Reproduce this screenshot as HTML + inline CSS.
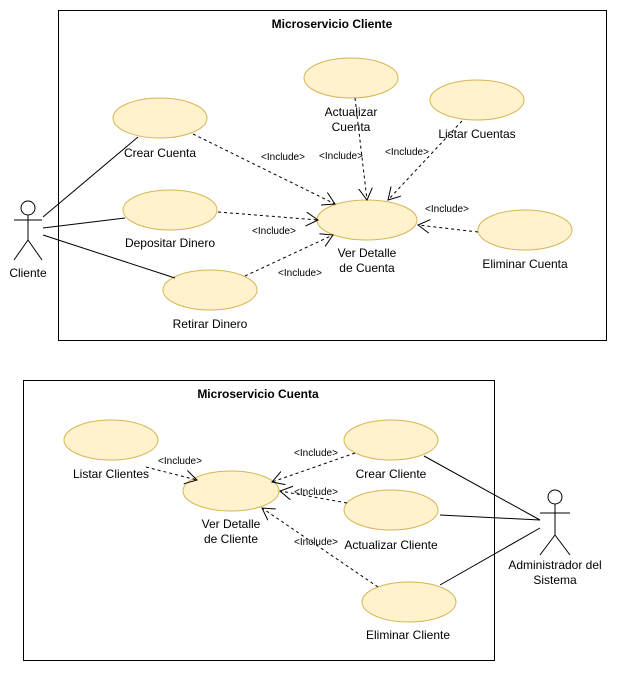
<!DOCTYPE html>
<html><head><style>body{margin:0;background:#fff}</style></head><body>
<svg width="617" height="671" viewBox="0 0 617 671" xmlns="http://www.w3.org/2000/svg" font-family="Liberation Sans, sans-serif" font-size="11">
<defs><marker id="a" markerWidth="14" markerHeight="16" refX="12" refY="7" orient="auto" markerUnits="userSpaceOnUse"><path d="M0,0 L12,7 L0,14" fill="none" stroke="#000"/></marker></defs>
<rect x="58.5" y="10.5" width="548" height="330" fill="none" stroke="#000"/>
<text x="332" y="28" text-anchor="middle" font-weight="bold" font-size="12">Microservicio Cliente</text>
<g fill="#fff2cc" stroke="#d6b656">
<ellipse cx="160" cy="118" rx="47" ry="20"/><ellipse cx="351" cy="78" rx="47" ry="20"/><ellipse cx="477" cy="100" rx="47" ry="20"/>
<ellipse cx="170" cy="210" rx="47" ry="20"/><ellipse cx="367" cy="220" rx="50" ry="20"/><ellipse cx="525" cy="230" rx="47" ry="20"/><ellipse cx="210" cy="290" rx="47" ry="20"/>
<ellipse cx="111" cy="440" rx="47" ry="20"/><ellipse cx="231" cy="491" rx="48" ry="20"/><ellipse cx="391" cy="440" rx="47" ry="20"/><ellipse cx="391" cy="510" rx="47" ry="20"/><ellipse cx="409" cy="602" rx="47" ry="20"/>
</g>
<g stroke="#000" fill="none">
<circle cx="28" cy="208" r="7" fill="#fff"/><line x1="28" y1="215" x2="28" y2="240"/><line x1="14" y1="220" x2="42" y2="220"/><line x1="28" y1="240" x2="14" y2="260"/><line x1="28" y1="240" x2="42" y2="260"/>
<line x1="43" y1="217" x2="138" y2="137"/><line x1="43" y1="228" x2="125" y2="218"/><line x1="43" y1="235" x2="175" y2="278"/>
<circle cx="555" cy="497" r="7" fill="#fff"/><line x1="555" y1="504" x2="555" y2="535"/><line x1="540" y1="513" x2="570" y2="513"/><line x1="555" y1="535" x2="540" y2="555"/><line x1="555" y1="535" x2="570" y2="555"/>
<line x1="424" y1="456" x2="540" y2="520"/><line x1="440" y1="515" x2="540" y2="520"/><line x1="440" y1="585" x2="540" y2="528"/>
<g stroke-dasharray="3,3" marker-end="url(#a)">
<line x1="193" y1="134" x2="335" y2="204"/><line x1="355" y1="98" x2="367" y2="200"/><line x1="462" y1="121" x2="388" y2="200"/><line x1="218" y1="212" x2="318" y2="220"/><line x1="245" y1="276" x2="333" y2="235"/><line x1="478" y1="232" x2="418" y2="225"/>
<line x1="146" y1="467" x2="197" y2="480"/><line x1="355" y1="453" x2="272" y2="482"/><line x1="347" y1="503" x2="280" y2="491"/><line x1="378" y1="587" x2="262" y2="508"/>
</g></g>
<rect x="23.5" y="380.5" width="471" height="280" fill="none" stroke="#000"/>
<text x="258" y="398" text-anchor="middle" font-weight="bold" font-size="12">Microservicio Cuenta</text>
<g text-anchor="middle" font-size="12">
<text x="160" y="157">Crear Cuenta</text><text x="351" y="116">Actualizar</text><text x="351" y="131">Cuenta</text><text x="477" y="138">Listar Cuentas</text>
<text x="170" y="247">Depositar Dinero</text><text x="367" y="257">Ver Detalle</text><text x="367" y="272">de Cuenta</text><text x="525" y="268">Eliminar Cuenta</text><text x="210" y="328">Retirar Dinero</text>
<text x="28" y="277">Cliente</text>
<text x="111" y="478">Listar Clientes</text><text x="231" y="528">Ver Detalle</text><text x="231" y="543">de Cliente</text><text x="391" y="478">Crear Cliente</text><text x="391" y="549">Actualizar Cliente</text><text x="408" y="639">Eliminar Cliente</text>
<text x="555" y="569">Administrador del</text><text x="555" y="584">Sistema</text>
</g>
<g text-anchor="middle" font-size="10">
<text x="283" y="160">&lt;Include&gt;</text><text x="341" y="159">&lt;Include&gt;</text><text x="407" y="155">&lt;Include&gt;</text><text x="447" y="212">&lt;Include&gt;</text><text x="274" y="234">&lt;Include&gt;</text><text x="300" y="276">&lt;Include&gt;</text>
<text x="180" y="464">&lt;Include&gt;</text><text x="316" y="456">&lt;Include&gt;</text><text x="316" y="495">&lt;Include&gt;</text><text x="316" y="545">&lt;Include&gt;</text>
</g>
</svg>
</body></html>
